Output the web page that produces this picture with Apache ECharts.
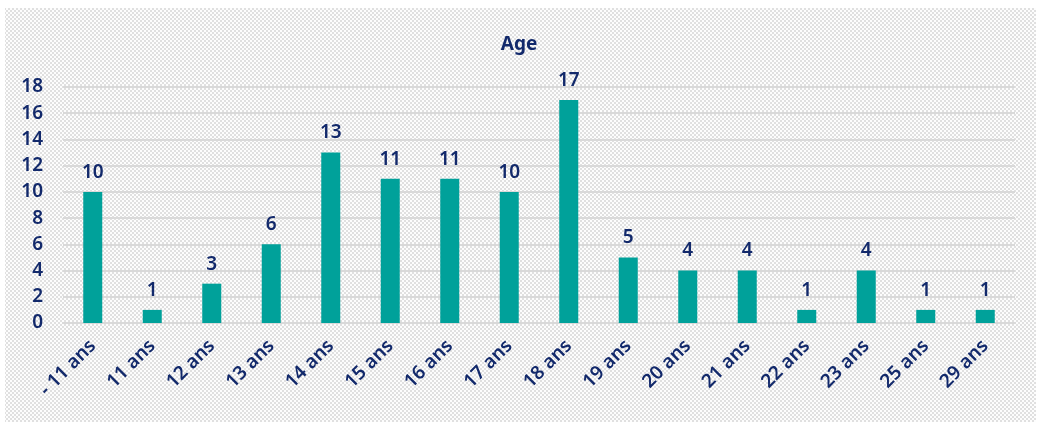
<!DOCTYPE html>
<html>
<head>
<meta charset="utf-8">
<script src="https://cdn.jsdelivr.net/npm/echarts@6/dist/echarts.min.js"></script>
<style>
  html, body { margin: 0; padding: 0; background: #ffffff; }
  #age_chart { width: 1038px; height: 424px; }
</style>
</head>
<body>
<div id="age_chart"></div>
<script>
const categories = ['- 11 ans', '11 ans', '12 ans', '13 ans', '14 ans', '15 ans', '16 ans', '17 ans',
  '18 ans', '19 ans', '20 ans', '21 ans', '22 ans', '23 ans', '25 ans', '29 ans']
const counts = [10, 1, 3, 6, 13, 11, 11, 10, 17, 5, 4, 4, 1, 4, 1, 1]
const yTicks = [0, 2, 4, 6, 8, 10, 12, 14, 16, 18]

const textColor = '#12296b'
const barColor = '#00a19a'
const lineColor = '#d9d9d9'
const font = "'Noto Sans', sans-serif"

// checkered grey background like the original export
function makePattern() {
  const c = document.createElement('canvas')
  c.width = 8
  c.height = 8
  const ctx = c.getContext('2d')
  ctx.fillStyle = '#fdfdfd'
  ctx.fillRect(0, 0, 8, 8)
  ctx.fillStyle = '#e0e0e0'
  for (let y = 0; y < 8; y += 2) {
    for (let x = 0; x < 8; x += 2) {
      if (((x + y) / 2) % 2 === 0) ctx.fillRect(x, y, 2, 2)
    }
  }
  return c
}

const myChart = echarts.init(document.getElementById('age_chart'))

const option = {
  backgroundColor: '#ffffff',
  animation: false,
  graphic: [{
    type: 'rect',
    silent: true,
    z: -10,
    shape: {x: 5, y: 8, width: 1031, height: 414},
    style: {fill: {image: makePattern(), repeat: 'repeat'}}
  }],
  title: {
    text: 'Age',
    left: 'center',
    top: 30,
    textStyle: {color: textColor, fontFamily: font, fontSize: 19, fontWeight: 'bold'}
  },
  grid: {
    left: 63,
    right: 23,
    top: 87,
    bottom: 101,
    containLabel: false
  },
  xAxis: {
    type: 'category',
    data: categories,
    axisLine: {lineStyle: {color: lineColor, width: 2}},
    axisTick: {show: false},
    axisLabel: {
      rotate: 45,
      margin: 20,
      interval: 0,
      color: textColor,
      fontFamily: font,
      fontSize: 19,
      fontWeight: 600
    }
  },
  yAxis: {
    type: 'value',
    min: yTicks[0],
    max: yTicks[yTicks.length - 1],
    interval: 2,
    axisLine: {show: false},
    axisTick: {show: false},
    axisLabel: {
      margin: 20,
      color: textColor,
      fontFamily: font,
      fontSize: 19,
      fontWeight: 600
    },
    splitLine: {lineStyle: {color: lineColor, width: 2}}
  },
  series: [{
    type: 'bar',
    data: counts,
    barWidth: 19,
    itemStyle: {color: barColor},
    label: {
      show: true,
      position: 'top',
      distance: 10,
      color: textColor,
      fontFamily: font,
      fontSize: 19,
      fontWeight: 600
    }
  }]
}

option && myChart.setOption(option)
</script>
</body>
</html>
